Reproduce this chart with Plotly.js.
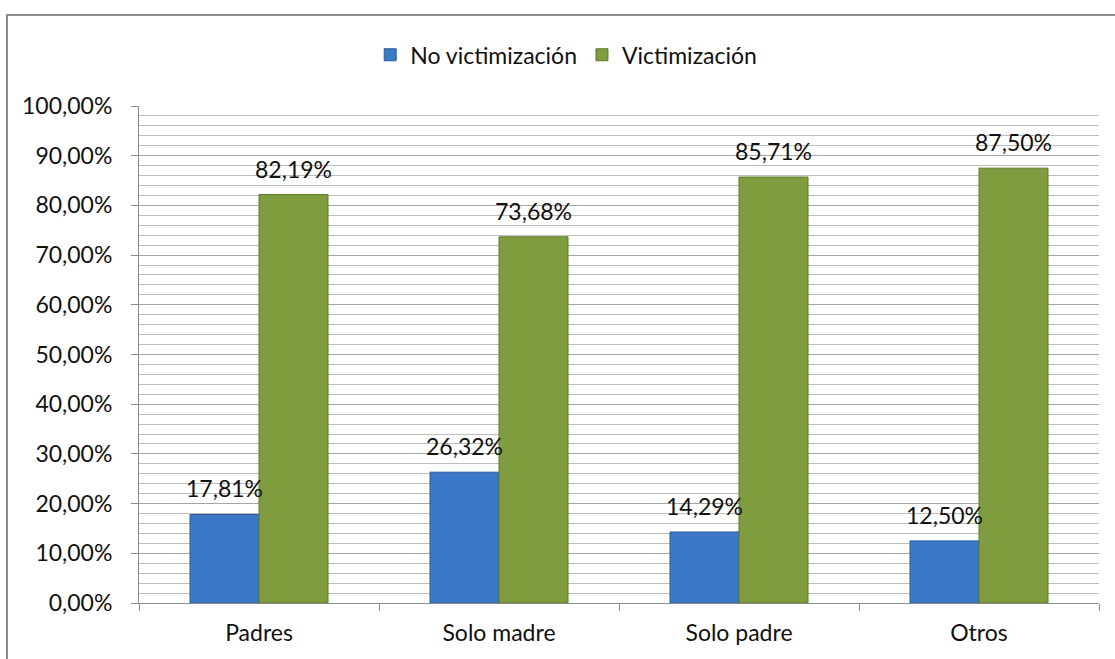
<!DOCTYPE html>
<html>
<head>
<meta charset="utf-8">
<script src="https://cdn.plot.ly/plotly-3.0.1.min.js"></script>
<style>
html,body{margin:0;padding:0;background:#fff;}
#chart{width:1115px;height:659px;}
</style>
</head>
<body>
<div id="chart"></div>
<script>
var categories = ["Padres", "Solo madre", "Solo padre", "Otros"];
var noVictimizacion = [17.81, 26.32, 14.29, 12.50];
var victimizacion = [82.19, 73.68, 85.71, 87.50];
var seriesNames = ["No victimización", "Victimización"];
var yTickVals = [0, 10, 20, 30, 40, 50, 60, 70, 80, 90, 100];

function fmt(v) { return v.toFixed(2).replace(".", ",") + "%"; }

var FONT = "Lato, 'Open Sans', sans-serif";
var FS = 23;

var traces = [
  {
    type: "bar", name: seriesNames[0], x: categories, y: noVictimizacion,
    marker: {color: "#3b78c8", line: {color: "#2a5a9c", width: 1}},
    hoverinfo: "skip"
  },
  {
    type: "bar", name: seriesNames[1], x: categories, y: victimizacion,
    marker: {color: "#7f9c3f", line: {color: "#5e7a2a", width: 1}},
    hoverinfo: "skip"
  }
];

var annotations = [];
[noVictimizacion, victimizacion].forEach(function (vals, s) {
  vals.forEach(function (v, i) {
    annotations.push({
      x: categories[i], y: v, xref: "x", yref: "y",
      text: fmt(v), showarrow: false,
      xanchor: "center", yanchor: "bottom",
      xshift: s === 0 ? -34.5 : 34.5, yshift: 10,
      font: {family: FONT, size: FS, color: "#111"}
    });
  });
});

var layout = {
  width: 1115, height: 659,
  margin: {l: 139, r: 16, t: 106, b: 56},
  paper_bgcolor: "#fff", plot_bgcolor: "#fff",
  font: {family: FONT, size: FS, color: "#111"},
  barmode: "group", bargap: 0.425, bargroupgap: 0,
  showlegend: true,
  legend: {
    orientation: "h", x: 0.445, y: 1.103, xanchor: "center", yanchor: "middle",
    font: {family: FONT, size: FS, color: "#111"},
    itemwidth: 30, tracegroupgap: 0, traceorder: "normal"
  },
  xaxis: {
    type: "category", showgrid: false,
    showline: true, linecolor: "#8c8c8c", linewidth: 1,
    ticks: "outside", tickson: "boundaries", ticklen: 7, tickcolor: "#8c8c8c",
    ticklabelstandoff: 9,
    tickfont: {family: FONT, size: FS, color: "#111"},
    fixedrange: true
  },
  yaxis: {
    range: [0, 100], tickvals: yTickVals,
    ticktext: yTickVals.map(function (v) { return v.toFixed(2).replace(".", ",") + "%"; }),
    showgrid: true, gridcolor: "#a6a6a6", gridwidth: 1,
    minor: {dtick: 2, showgrid: true, gridcolor: "#bdbdbd", gridwidth: 1},
    showline: true, linecolor: "#8c8c8c", linewidth: 1,
    ticks: "outside", ticklen: 7, tickcolor: "#8c8c8c",
    ticklabelstandoff: 14,
    zeroline: false,
    tickfont: {family: FONT, size: FS, color: "#111"},
    fixedrange: true
  },
  annotations: annotations,
  shapes: [{
    type: "rect", xref: "paper", yref: "paper",
    x0: -0.1375, x1: 1.03, y0: -0.2, y1: 1.183,
    line: {color: "#8c8c8c", width: 2}, fillcolor: "rgba(0,0,0,0)", layer: "below"
  }]
};

Plotly.newPlot("chart", traces, layout, {displayModeBar: false, staticPlot: true});
</script>
</body>
</html>
